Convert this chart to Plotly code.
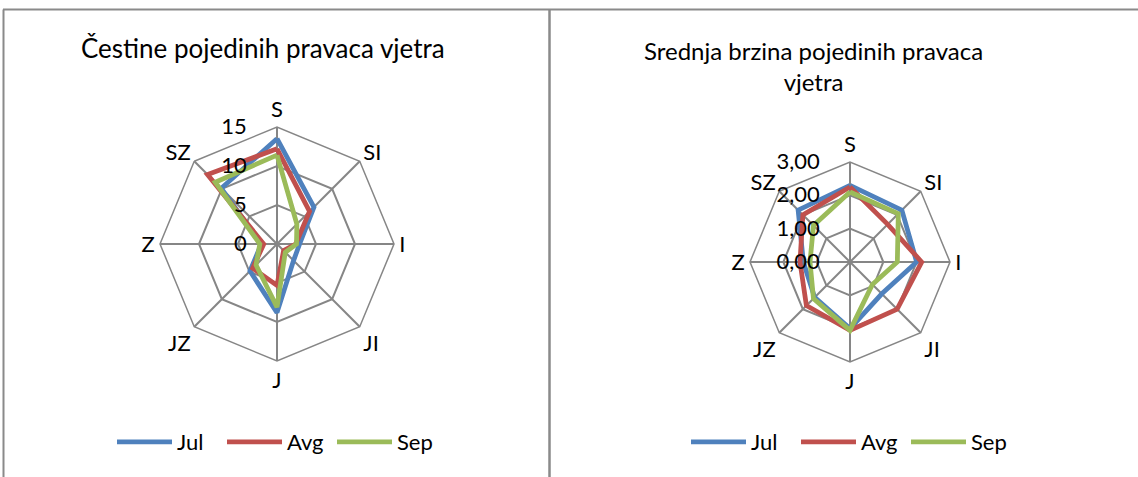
import plotly.graph_objects as go

# ---- data ----
directions = ["S", "SI", "I", "JI", "J", "JZ", "Z", "SZ"]
series_names = ["Jul", "Avg", "Sep"]
series_colors = ["#4F81BD", "#C0504D", "#9BBB59"]

# Čestine pojedinih pravaca vjetra (frequency)
freq_jul = [13.5, 6.7, 2.9, 3.0, 8.8, 4.9, 2.0, 10.1]
freq_avg = [12.2, 5.9, 2.4, 1.2, 5.3, 4.4, 1.7, 12.6]
freq_sep = [11.4, 3.6, 2.5, 1.5, 8.1, 3.8, 2.2, 11.2]
freq_ticks = [0, 5, 10, 15]

# Srednja brzina pojedinih pravaca vjetra (mean speed)
speed_jul = [2.30, 2.20, 2.00, 1.35, 2.00, 1.50, 1.40, 2.20]
speed_avg = [2.25, 1.60, 2.15, 2.00, 2.05, 1.85, 1.50, 2.00]
speed_sep = [2.10, 2.05, 1.42, 0.95, 2.05, 1.55, 1.20, 1.55]
speed_ticks = [0, 1, 2, 3]

title_left = "Čestine pojedinih pravaca vjetra"
title_right = "Srednja brzina pojedinih pravaca<br>vjetra"

FONT = "Lato"
GRID = "#868686"
W, H = 1138, 477

fig = go.Figure()


def closed(vals):
    return list(vals) + [vals[0]]


theta = closed(directions)

for name, color, vals in zip(series_names, series_colors, [freq_jul, freq_avg, freq_sep]):
    fig.add_trace(go.Scatterpolar(
        r=closed(vals), theta=theta, mode="lines", name=name,
        line=dict(color=color, width=4.8), subplot="polar", legend="legend",
        hoverinfo="skip"))

for name, color, vals in zip(series_names, series_colors, [speed_jul, speed_avg, speed_sep]):
    fig.add_trace(go.Scatterpolar(
        r=closed(vals), theta=theta, mode="lines", name=name,
        line=dict(color=color, width=4.8), subplot="polar2", legend="legend2",
        hoverinfo="skip"))


def px_x(x):
    return x / W


def px_y(y):
    return (H - y) / H


def polar_cfg(cx, cy, rad, rng, ticks, fmt):
    return dict(
        domain=dict(x=[px_x(cx - rad), px_x(cx + rad)],
                    y=[px_y(cy + rad), px_y(cy - rad)]),
        gridshape="linear",
        bgcolor="white",
        angularaxis=dict(
            categoryorder="array", categoryarray=directions,
            rotation=90, direction="clockwise",
            showline=True, linecolor=GRID, linewidth=1.5,
            gridcolor=GRID, gridwidth=1.5,
            ticks="", tickfont=dict(family=FONT, size=22, color="black"),
        ),
        radialaxis=dict(
            range=rng, tickvals=ticks, tickformat=fmt,
            angle=90, tickangle=90, side="counterclockwise",
            showline=False, ticks="outside", ticklen=22,
            tickcolor="rgba(0,0,0,0)",
            gridcolor=GRID, gridwidth=1.5,
            tickfont=dict(family=FONT, size=22, color="black"),
        ),
    )


border = "#8a8a8a"
shapes = [
    dict(type="line", xref="paper", yref="paper", x0=px_x(3), x1=1, y0=px_y(9.5), y1=px_y(9.5),
         line=dict(color=border, width=2)),
    dict(type="line", xref="paper", yref="paper", x0=px_x(3.5), x1=px_x(3.5), y0=px_y(9.5), y1=0,
         line=dict(color=border, width=2)),
    dict(type="line", xref="paper", yref="paper", x0=px_x(549.5), x1=px_x(549.5), y0=px_y(9.5), y1=0,
         line=dict(color=border, width=2.5)),
]

annotations = [
    dict(text=title_left, x=px_x(263), y=px_y(48), xref="paper", yref="paper",
         showarrow=False, xanchor="center", yanchor="middle",
         font=dict(family=FONT, size=26, color="black")),
    dict(text=title_right, x=px_x(813), y=px_y(66), xref="paper", yref="paper",
         showarrow=False, xanchor="center", yanchor="middle", align="center",
         font=dict(family=FONT, size=24, color="black")),
]

legend_common = dict(
    orientation="h", xanchor="center", yanchor="middle",
    font=dict(family=FONT, size=22, color="black"),
    bgcolor="rgba(0,0,0,0)", itemwidth=55,
    entrywidth=40, entrywidthmode="pixels",
    itemclick=False, itemdoubleclick=False,
)

fig.update_layout(
    width=W, height=H,
    margin=dict(l=0, r=0, t=0, b=0),
    paper_bgcolor="white", plot_bgcolor="white",
    separators=",.",
    polar=polar_cfg(277, 244, 117, [0, 15], freq_ticks, "d"),
    polar2=polar_cfg(850, 262, 100, [0, 3], speed_ticks, ".2f"),
    legend=dict(x=px_x(277), y=px_y(442), **legend_common),
    legend2=dict(x=px_x(851), y=px_y(442), **legend_common),
    shapes=shapes,
    annotations=annotations,
    showlegend=True,
)

fig.write_html(
    "out.html",
    config={"displayModeBar": False},
    post_script="document.body.style.margin='0px';document.body.style.overflow='hidden';",
)
